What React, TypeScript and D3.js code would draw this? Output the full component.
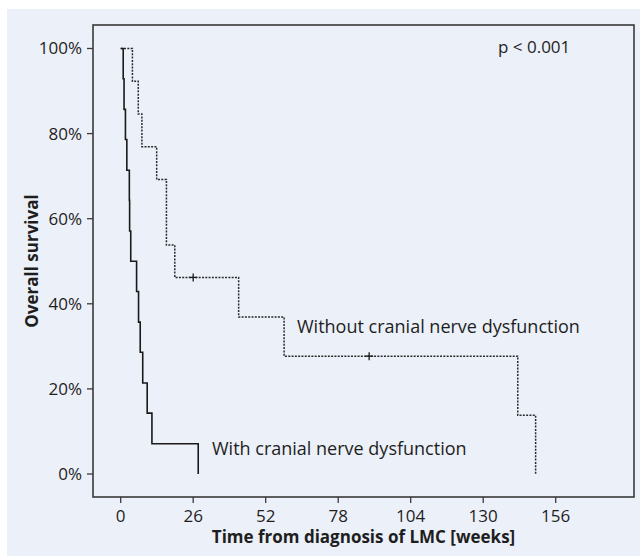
import React from 'react';
import * as d3 from 'd3';

// Kaplan-Meier curves (weeks, survival fraction)
const withoutTimes = [0, 4.2, 6.3, 7.6, 12.9, 16.4, 19.4, 42.3, 58.6, 142.4, 148.8];
const withoutSurv = [1, 0.923, 0.846, 0.769, 0.692, 0.538, 0.462, 0.369, 0.277, 0.138, 0];
const withoutCensorTimes = [26.0, 89.1];
const withoutCensorSurv = [0.462, 0.277];

const withTimes = [0, 0.9, 1.2, 1.7, 2.2, 3.1, 3.2, 3.6, 5.7, 6.4, 7.0, 7.9, 9.5, 11.2, 27.8];
const withSurv = [1, 0.929, 0.857, 0.786, 0.714, 0.643, 0.571, 0.5, 0.429, 0.357, 0.286, 0.214, 0.143, 0.071, 0];

const xTicks = [0, 26, 52, 78, 104, 130, 156];
const yTicks = [0, 0.2, 0.4, 0.6, 0.8, 1];

const W = 640;
const H = 556;
const box = { left: 93, right: 634, top: 25, bottom: 497 };
const font = '"Open Sans", sans-serif';
const ink = '#1e1e1e';

const App = () => {
  const x = d3.scaleLinear().domain([0, 156]).range([120.7, 555.7]);
  const y = d3.scaleLinear().domain([0, 1]).range([474, 48.5]);

  const line = d3.line<[number, number]>()
    .x((d) => x(d[0]))
    .y((d) => y(d[1]))
    .curve(d3.curveStepAfter);

  const withoutPath = line(withoutTimes.map((t, i) => [t, withoutSurv[i]]));
  const withPath = line(withTimes.map((t, i) => [t, withSurv[i]]));

  return (
    <svg width={W} height={H} style={{ position: 'absolute', left: 0, top: 0 }} fontFamily={font}>
      <rect x={7} y={9} width={W - 7} height={H - 9} fill="#ECF0F9" />

      {/* curves */}
      <path d={withoutPath || ''} fill="none" stroke="#2a2a2a" strokeWidth={1.5} strokeDasharray="2,1.3" />
      <path d={withPath || ''} fill="none" stroke="#1a1a1a" strokeWidth={1.6} />
      {withoutCensorTimes.map((t, i) => (
        <g key={i} stroke="#1a1a1a" strokeWidth={1.3}>
          <line x1={x(t) - 4} x2={x(t) + 4} y1={y(withoutCensorSurv[i])} y2={y(withoutCensorSurv[i])} />
          <line x1={x(t)} x2={x(t)} y1={y(withoutCensorSurv[i]) - 4} y2={y(withoutCensorSurv[i]) + 4} />
        </g>
      ))}

      {/* frame */}
      <rect x={box.left} y={box.top} width={box.right - box.left} height={box.bottom - box.top}
        fill="none" stroke="#3a3a3a" strokeWidth={1.6} />

      {/* y axis */}
      {yTicks.map((v) => (
        <g key={v}>
          <line x1={box.left - 6} x2={box.left} y1={y(v)} y2={y(v)} stroke="#3a3a3a" strokeWidth={1.3} />
          <text x={82} y={y(v)} dy="0.35em" textAnchor="end" fontSize={17} fill={ink}>
            {d3.format('.0%')(v)}
          </text>
        </g>
      ))}

      {/* x axis */}
      {xTicks.map((v) => (
        <g key={v}>
          <line x1={x(v)} x2={x(v)} y1={box.bottom} y2={box.bottom + 6} stroke="#3a3a3a" strokeWidth={1.3} />
          <text x={x(v)} y={522} textAnchor="middle" fontSize={17} fill={ink}>{v}</text>
        </g>
      ))}

      <text x={(box.left + box.right) / 2} y={543} textAnchor="middle" fontSize={17} fontWeight="bold" fill={ink}>
        Time from diagnosis of LMC [weeks]
      </text>
      <text transform="translate(38,261) rotate(-90)" textAnchor="middle" fontSize={17} fontWeight="bold" fill={ink}>
        Overall survival
      </text>

      <text x={498} y={53} fontSize={17} fill={ink}>p &lt; 0.001</text>
      <text x={297} y={333} fontSize={18} fill={ink}>Without cranial nerve dysfunction</text>
      <text x={212} y={455} fontSize={18} fill={ink}>With cranial nerve dysfunction</text>
    </svg>
  );
};

export default App;
